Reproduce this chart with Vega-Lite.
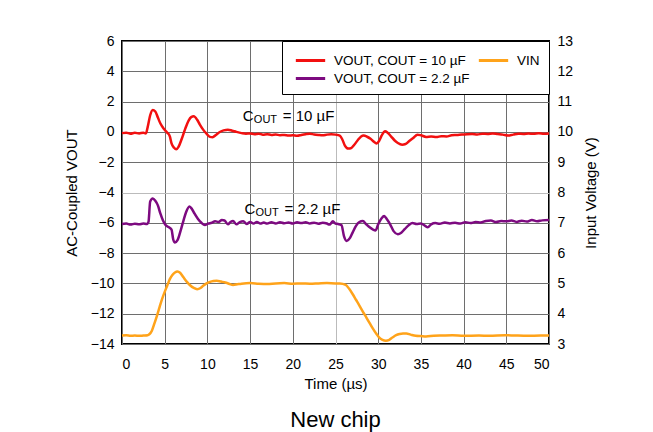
{
  "$schema": "https://vega.github.io/schema/vega-lite/v6.json",
  "autosize": "none",
  "width": 427,
  "height": 303,
  "padding": {"left": 122, "top": 41, "right": 104, "bottom": 88},
  "background": "white",
  "datasets": {
    "vout": [
      {"s": "VOUT, COUT = 10 µF", "t": 0, "v": -0.08}, {"s": "VOUT, COUT = 10 µF", "t": 0.5, "v": -0.05}, {"s": "VOUT, COUT = 10 µF", "t": 1, "v": -0.12}, {"s": "VOUT, COUT = 10 µF", "t": 1.5, "v": -0.06}, {"s": "VOUT, COUT = 10 µF", "t": 2, "v": -0.1}, {"s": "VOUT, COUT = 10 µF", "t": 2.5, "v": -0.05}, {"s": "VOUT, COUT = 10 µF", "t": 2.8, "v": -0.1}, {"s": "VOUT, COUT = 10 µF", "t": 3.0, "v": 0.3}, {"s": "VOUT, COUT = 10 µF", "t": 3.3, "v": 1.1}, {"s": "VOUT, COUT = 10 µF", "t": 3.6, "v": 1.45}, {"s": "VOUT, COUT = 10 µF", "t": 3.9, "v": 1.35}, {"s": "VOUT, COUT = 10 µF", "t": 4.2, "v": 0.95}, {"s": "VOUT, COUT = 10 µF", "t": 4.5, "v": 0.55}, {"s": "VOUT, COUT = 10 µF", "t": 4.9, "v": 0.2}, {"s": "VOUT, COUT = 10 µF", "t": 5.3, "v": -0.05}, {"s": "VOUT, COUT = 10 µF", "t": 5.6, "v": -0.3}, {"s": "VOUT, COUT = 10 µF", "t": 5.8, "v": -0.75}, {"s": "VOUT, COUT = 10 µF", "t": 6.1, "v": -1.05}, {"s": "VOUT, COUT = 10 µF", "t": 6.35, "v": -1.15}, {"s": "VOUT, COUT = 10 µF", "t": 6.6, "v": -1.0}, {"s": "VOUT, COUT = 10 µF", "t": 7.0, "v": -0.45}, {"s": "VOUT, COUT = 10 µF", "t": 7.4, "v": 0.2}, {"s": "VOUT, COUT = 10 µF", "t": 7.8, "v": 0.75}, {"s": "VOUT, COUT = 10 µF", "t": 8.1, "v": 0.98}, {"s": "VOUT, COUT = 10 µF", "t": 8.4, "v": 1.03}, {"s": "VOUT, COUT = 10 µF", "t": 8.8, "v": 0.8}, {"s": "VOUT, COUT = 10 µF", "t": 9.1, "v": 0.5}, {"s": "VOUT, COUT = 10 µF", "t": 9.5, "v": 0.15}, {"s": "VOUT, COUT = 10 µF", "t": 9.9, "v": -0.12}, {"s": "VOUT, COUT = 10 µF", "t": 10.3, "v": -0.33}, {"s": "VOUT, COUT = 10 µF", "t": 10.6, "v": -0.35}, {"s": "VOUT, COUT = 10 µF", "t": 11.0, "v": -0.2}, {"s": "VOUT, COUT = 10 µF", "t": 11.4, "v": -0.02}, {"s": "VOUT, COUT = 10 µF", "t": 11.9, "v": 0.1}, {"s": "VOUT, COUT = 10 µF", "t": 12.4, "v": 0.15}, {"s": "VOUT, COUT = 10 µF", "t": 12.9, "v": 0.08}, {"s": "VOUT, COUT = 10 µF", "t": 13.4, "v": 0.0}, {"s": "VOUT, COUT = 10 µF", "t": 14.0, "v": -0.08}, {"s": "VOUT, COUT = 10 µF", "t": 14.5, "v": -0.12}, {"s": "VOUT, COUT = 10 µF", "t": 15, "v": -0.1}, {"s": "VOUT, COUT = 10 µF", "t": 15.5, "v": -0.15}, {"s": "VOUT, COUT = 10 µF", "t": 16, "v": -0.12}, {"s": "VOUT, COUT = 10 µF", "t": 16.5, "v": -0.18}, {"s": "VOUT, COUT = 10 µF", "t": 17, "v": -0.15}, {"s": "VOUT, COUT = 10 µF", "t": 17.5, "v": -0.2}, {"s": "VOUT, COUT = 10 µF", "t": 18, "v": -0.17}, {"s": "VOUT, COUT = 10 µF", "t": 18.5, "v": -0.22}, {"s": "VOUT, COUT = 10 µF", "t": 19, "v": -0.2}, {"s": "VOUT, COUT = 10 µF", "t": 19.5, "v": -0.24}, {"s": "VOUT, COUT = 10 µF", "t": 20, "v": -0.22}, {"s": "VOUT, COUT = 10 µF", "t": 20.5, "v": -0.26}, {"s": "VOUT, COUT = 10 µF", "t": 21, "v": -0.2}, {"s": "VOUT, COUT = 10 µF", "t": 21.5, "v": -0.15}, {"s": "VOUT, COUT = 10 µF", "t": 22, "v": -0.12}, {"s": "VOUT, COUT = 10 µF", "t": 22.5, "v": -0.17}, {"s": "VOUT, COUT = 10 µF", "t": 23, "v": -0.2}, {"s": "VOUT, COUT = 10 µF", "t": 23.5, "v": -0.22}, {"s": "VOUT, COUT = 10 µF", "t": 24, "v": -0.18}, {"s": "VOUT, COUT = 10 µF", "t": 24.5, "v": -0.16}, {"s": "VOUT, COUT = 10 µF", "t": 25, "v": -0.18}, {"s": "VOUT, COUT = 10 µF", "t": 25.5, "v": -0.24}, {"s": "VOUT, COUT = 10 µF", "t": 25.8, "v": -0.5}, {"s": "VOUT, COUT = 10 µF", "t": 26.1, "v": -0.9}, {"s": "VOUT, COUT = 10 µF", "t": 26.5, "v": -1.1}, {"s": "VOUT, COUT = 10 µF", "t": 26.8, "v": -1.08}, {"s": "VOUT, COUT = 10 µF", "t": 27.2, "v": -0.85}, {"s": "VOUT, COUT = 10 µF", "t": 27.6, "v": -0.55}, {"s": "VOUT, COUT = 10 µF", "t": 28.0, "v": -0.3}, {"s": "VOUT, COUT = 10 µF", "t": 28.3, "v": -0.24}, {"s": "VOUT, COUT = 10 µF", "t": 28.7, "v": -0.32}, {"s": "VOUT, COUT = 10 µF", "t": 29.1, "v": -0.45}, {"s": "VOUT, COUT = 10 µF", "t": 29.5, "v": -0.65}, {"s": "VOUT, COUT = 10 µF", "t": 29.8, "v": -0.77}, {"s": "VOUT, COUT = 10 µF", "t": 30.1, "v": -0.6}, {"s": "VOUT, COUT = 10 µF", "t": 30.4, "v": -0.25}, {"s": "VOUT, COUT = 10 µF", "t": 30.8, "v": 0.04}, {"s": "VOUT, COUT = 10 µF", "t": 31.1, "v": -0.05}, {"s": "VOUT, COUT = 10 µF", "t": 31.5, "v": -0.29}, {"s": "VOUT, COUT = 10 µF", "t": 31.9, "v": -0.55}, {"s": "VOUT, COUT = 10 µF", "t": 32.3, "v": -0.73}, {"s": "VOUT, COUT = 10 µF", "t": 32.8, "v": -0.84}, {"s": "VOUT, COUT = 10 µF", "t": 33.2, "v": -0.8}, {"s": "VOUT, COUT = 10 µF", "t": 33.6, "v": -0.62}, {"s": "VOUT, COUT = 10 µF", "t": 34.1, "v": -0.4}, {"s": "VOUT, COUT = 10 µF", "t": 34.6, "v": -0.18}, {"s": "VOUT, COUT = 10 µF", "t": 35.0, "v": -0.22}, {"s": "VOUT, COUT = 10 µF", "t": 35.6, "v": -0.33}, {"s": "VOUT, COUT = 10 µF", "t": 36.2, "v": -0.3}, {"s": "VOUT, COUT = 10 µF", "t": 36.8, "v": -0.34}, {"s": "VOUT, COUT = 10 µF", "t": 37.4, "v": -0.28}, {"s": "VOUT, COUT = 10 µF", "t": 38, "v": -0.3}, {"s": "VOUT, COUT = 10 µF", "t": 38.6, "v": -0.22}, {"s": "VOUT, COUT = 10 µF", "t": 39.2, "v": -0.2}, {"s": "VOUT, COUT = 10 µF", "t": 39.8, "v": -0.17}, {"s": "VOUT, COUT = 10 µF", "t": 40.4, "v": -0.15}, {"s": "VOUT, COUT = 10 µF", "t": 41, "v": -0.14}, {"s": "VOUT, COUT = 10 µF", "t": 41.6, "v": -0.17}, {"s": "VOUT, COUT = 10 µF", "t": 42.2, "v": -0.12}, {"s": "VOUT, COUT = 10 µF", "t": 42.8, "v": -0.14}, {"s": "VOUT, COUT = 10 µF", "t": 43.4, "v": -0.1}, {"s": "VOUT, COUT = 10 µF", "t": 44, "v": -0.14}, {"s": "VOUT, COUT = 10 µF", "t": 44.6, "v": -0.18}, {"s": "VOUT, COUT = 10 µF", "t": 45.2, "v": -0.24}, {"s": "VOUT, COUT = 10 µF", "t": 45.8, "v": -0.18}, {"s": "VOUT, COUT = 10 µF", "t": 46.4, "v": -0.12}, {"s": "VOUT, COUT = 10 µF", "t": 47, "v": -0.14}, {"s": "VOUT, COUT = 10 µF", "t": 47.6, "v": -0.1}, {"s": "VOUT, COUT = 10 µF", "t": 48.2, "v": -0.13}, {"s": "VOUT, COUT = 10 µF", "t": 48.8, "v": -0.09}, {"s": "VOUT, COUT = 10 µF", "t": 49.4, "v": -0.12}, {"s": "VOUT, COUT = 10 µF", "t": 50, "v": -0.1},

      {"s": "VOUT, COUT = 2.2 µF", "t": 0, "v": -6.08}, {"s": "VOUT, COUT = 2.2 µF", "t": 0.5, "v": -6.05}, {"s": "VOUT, COUT = 2.2 µF", "t": 1, "v": -6.12}, {"s": "VOUT, COUT = 2.2 µF", "t": 1.5, "v": -6.06}, {"s": "VOUT, COUT = 2.2 µF", "t": 2, "v": -6.1}, {"s": "VOUT, COUT = 2.2 µF", "t": 2.5, "v": -6.05}, {"s": "VOUT, COUT = 2.2 µF", "t": 2.9, "v": -6.08}, {"s": "VOUT, COUT = 2.2 µF", "t": 3.1, "v": -5.95}, {"s": "VOUT, COUT = 2.2 µF", "t": 3.3, "v": -4.6}, {"s": "VOUT, COUT = 2.2 µF", "t": 3.6, "v": -4.4}, {"s": "VOUT, COUT = 2.2 µF", "t": 3.9, "v": -4.55}, {"s": "VOUT, COUT = 2.2 µF", "t": 4.2, "v": -4.85}, {"s": "VOUT, COUT = 2.2 µF", "t": 4.5, "v": -5.4}, {"s": "VOUT, COUT = 2.2 µF", "t": 4.8, "v": -5.85}, {"s": "VOUT, COUT = 2.2 µF", "t": 5.1, "v": -6.15}, {"s": "VOUT, COUT = 2.2 µF", "t": 5.5, "v": -6.3}, {"s": "VOUT, COUT = 2.2 µF", "t": 5.8, "v": -6.45}, {"s": "VOUT, COUT = 2.2 µF", "t": 6.0, "v": -7.1}, {"s": "VOUT, COUT = 2.2 µF", "t": 6.2, "v": -7.3}, {"s": "VOUT, COUT = 2.2 µF", "t": 6.5, "v": -7.15}, {"s": "VOUT, COUT = 2.2 µF", "t": 6.9, "v": -6.45}, {"s": "VOUT, COUT = 2.2 µF", "t": 7.2, "v": -5.85}, {"s": "VOUT, COUT = 2.2 µF", "t": 7.5, "v": -5.3}, {"s": "VOUT, COUT = 2.2 µF", "t": 7.9, "v": -4.92}, {"s": "VOUT, COUT = 2.2 µF", "t": 8.2, "v": -5.1}, {"s": "VOUT, COUT = 2.2 µF", "t": 8.5, "v": -5.4}, {"s": "VOUT, COUT = 2.2 µF", "t": 8.9, "v": -5.75}, {"s": "VOUT, COUT = 2.2 µF", "t": 9.3, "v": -6.0}, {"s": "VOUT, COUT = 2.2 µF", "t": 9.7, "v": -6.15}, {"s": "VOUT, COUT = 2.2 µF", "t": 10.1, "v": -6.05}, {"s": "VOUT, COUT = 2.2 µF", "t": 10.5, "v": -6.0}, {"s": "VOUT, COUT = 2.2 µF", "t": 10.9, "v": -5.9}, {"s": "VOUT, COUT = 2.2 µF", "t": 11.3, "v": -5.95}, {"s": "VOUT, COUT = 2.2 µF", "t": 11.7, "v": -5.82}, {"s": "VOUT, COUT = 2.2 µF", "t": 12.0, "v": -5.85}, {"s": "VOUT, COUT = 2.2 µF", "t": 12.4, "v": -6.1}, {"s": "VOUT, COUT = 2.2 µF", "t": 12.7, "v": -5.95}, {"s": "VOUT, COUT = 2.2 µF", "t": 13.0, "v": -5.88}, {"s": "VOUT, COUT = 2.2 µF", "t": 13.4, "v": -6.1}, {"s": "VOUT, COUT = 2.2 µF", "t": 13.8, "v": -5.95}, {"s": "VOUT, COUT = 2.2 µF", "t": 14.2, "v": -5.9}, {"s": "VOUT, COUT = 2.2 µF", "t": 14.6, "v": -6.08}, {"s": "VOUT, COUT = 2.2 µF", "t": 15.0, "v": -5.95}, {"s": "VOUT, COUT = 2.2 µF", "t": 15.4, "v": -6.05}, {"s": "VOUT, COUT = 2.2 µF", "t": 15.8, "v": -5.95}, {"s": "VOUT, COUT = 2.2 µF", "t": 16.2, "v": -6.05}, {"s": "VOUT, COUT = 2.2 µF", "t": 16.6, "v": -5.98}, {"s": "VOUT, COUT = 2.2 µF", "t": 17, "v": -6.05}, {"s": "VOUT, COUT = 2.2 µF", "t": 17.5, "v": -5.97}, {"s": "VOUT, COUT = 2.2 µF", "t": 18, "v": -6.04}, {"s": "VOUT, COUT = 2.2 µF", "t": 18.5, "v": -5.96}, {"s": "VOUT, COUT = 2.2 µF", "t": 19, "v": -6.03}, {"s": "VOUT, COUT = 2.2 µF", "t": 19.5, "v": -5.98}, {"s": "VOUT, COUT = 2.2 µF", "t": 20, "v": -6.05}, {"s": "VOUT, COUT = 2.2 µF", "t": 20.5, "v": -5.97}, {"s": "VOUT, COUT = 2.2 µF", "t": 21, "v": -6.02}, {"s": "VOUT, COUT = 2.2 µF", "t": 21.5, "v": -5.96}, {"s": "VOUT, COUT = 2.2 µF", "t": 22, "v": -6.04}, {"s": "VOUT, COUT = 2.2 µF", "t": 22.5, "v": -5.99}, {"s": "VOUT, COUT = 2.2 µF", "t": 23, "v": -6.06}, {"s": "VOUT, COUT = 2.2 µF", "t": 23.5, "v": -6.0}, {"s": "VOUT, COUT = 2.2 µF", "t": 24, "v": -6.05}, {"s": "VOUT, COUT = 2.2 µF", "t": 24.3, "v": -6.12}, {"s": "VOUT, COUT = 2.2 µF", "t": 24.7, "v": -5.9}, {"s": "VOUT, COUT = 2.2 µF", "t": 25.0, "v": -6.05}, {"s": "VOUT, COUT = 2.2 µF", "t": 25.3, "v": -6.08}, {"s": "VOUT, COUT = 2.2 µF", "t": 25.7, "v": -6.15}, {"s": "VOUT, COUT = 2.2 µF", "t": 26.0, "v": -6.9}, {"s": "VOUT, COUT = 2.2 µF", "t": 26.3, "v": -7.2}, {"s": "VOUT, COUT = 2.2 µF", "t": 26.7, "v": -7.0}, {"s": "VOUT, COUT = 2.2 µF", "t": 27.0, "v": -6.65}, {"s": "VOUT, COUT = 2.2 µF", "t": 27.4, "v": -6.2}, {"s": "VOUT, COUT = 2.2 µF", "t": 27.8, "v": -5.95}, {"s": "VOUT, COUT = 2.2 µF", "t": 28.2, "v": -5.88}, {"s": "VOUT, COUT = 2.2 µF", "t": 28.6, "v": -6.1}, {"s": "VOUT, COUT = 2.2 µF", "t": 29.0, "v": -6.3}, {"s": "VOUT, COUT = 2.2 µF", "t": 29.4, "v": -6.45}, {"s": "VOUT, COUT = 2.2 µF", "t": 29.7, "v": -6.5}, {"s": "VOUT, COUT = 2.2 µF", "t": 30.0, "v": -6.1}, {"s": "VOUT, COUT = 2.2 µF", "t": 30.4, "v": -5.7}, {"s": "VOUT, COUT = 2.2 µF", "t": 30.7, "v": -5.55}, {"s": "VOUT, COUT = 2.2 µF", "t": 31.0, "v": -5.75}, {"s": "VOUT, COUT = 2.2 µF", "t": 31.4, "v": -6.1}, {"s": "VOUT, COUT = 2.2 µF", "t": 31.8, "v": -6.55}, {"s": "VOUT, COUT = 2.2 µF", "t": 32.3, "v": -6.75}, {"s": "VOUT, COUT = 2.2 µF", "t": 32.7, "v": -6.65}, {"s": "VOUT, COUT = 2.2 µF", "t": 33.1, "v": -6.42}, {"s": "VOUT, COUT = 2.2 µF", "t": 33.6, "v": -6.15}, {"s": "VOUT, COUT = 2.2 µF", "t": 34.0, "v": -6.02}, {"s": "VOUT, COUT = 2.2 µF", "t": 34.5, "v": -6.08}, {"s": "VOUT, COUT = 2.2 µF", "t": 35.0, "v": -6.05}, {"s": "VOUT, COUT = 2.2 µF", "t": 35.5, "v": -6.2}, {"s": "VOUT, COUT = 2.2 µF", "t": 35.8, "v": -6.3}, {"s": "VOUT, COUT = 2.2 µF", "t": 36.2, "v": -6.1}, {"s": "VOUT, COUT = 2.2 µF", "t": 36.7, "v": -6.02}, {"s": "VOUT, COUT = 2.2 µF", "t": 37.2, "v": -6.06}, {"s": "VOUT, COUT = 2.2 µF", "t": 37.8, "v": -5.98}, {"s": "VOUT, COUT = 2.2 µF", "t": 38.4, "v": -6.04}, {"s": "VOUT, COUT = 2.2 µF", "t": 39, "v": -6.0}, {"s": "VOUT, COUT = 2.2 µF", "t": 39.6, "v": -6.05}, {"s": "VOUT, COUT = 2.2 µF", "t": 40.2, "v": -5.96}, {"s": "VOUT, COUT = 2.2 µF", "t": 40.8, "v": -6.02}, {"s": "VOUT, COUT = 2.2 µF", "t": 41.4, "v": -5.95}, {"s": "VOUT, COUT = 2.2 µF", "t": 42, "v": -5.98}, {"s": "VOUT, COUT = 2.2 µF", "t": 42.6, "v": -5.88}, {"s": "VOUT, COUT = 2.2 µF", "t": 43.2, "v": -5.85}, {"s": "VOUT, COUT = 2.2 µF", "t": 43.8, "v": -5.95}, {"s": "VOUT, COUT = 2.2 µF", "t": 44.4, "v": -5.88}, {"s": "VOUT, COUT = 2.2 µF", "t": 45, "v": -5.9}, {"s": "VOUT, COUT = 2.2 µF", "t": 45.6, "v": -5.85}, {"s": "VOUT, COUT = 2.2 µF", "t": 46.2, "v": -5.94}, {"s": "VOUT, COUT = 2.2 µF", "t": 46.8, "v": -5.86}, {"s": "VOUT, COUT = 2.2 µF", "t": 47.4, "v": -5.92}, {"s": "VOUT, COUT = 2.2 µF", "t": 48, "v": -5.82}, {"s": "VOUT, COUT = 2.2 µF", "t": 48.6, "v": -5.9}, {"s": "VOUT, COUT = 2.2 µF", "t": 49.2, "v": -5.84}, {"s": "VOUT, COUT = 2.2 µF", "t": 50, "v": -5.82}
    ],
    "vin": [
      {"s": "VIN", "t": 0, "vin": 3.28}, {"s": "VIN", "t": 0.5, "vin": 3.29}, {"s": "VIN", "t": 1, "vin": 3.27}, {"s": "VIN", "t": 1.5, "vin": 3.28}, {"s": "VIN", "t": 2, "vin": 3.27}, {"s": "VIN", "t": 2.5, "vin": 3.28}, {"s": "VIN", "t": 3.0, "vin": 3.29}, {"s": "VIN", "t": 3.2, "vin": 3.32}, {"s": "VIN", "t": 3.5, "vin": 3.44}, {"s": "VIN", "t": 3.8, "vin": 3.68}, {"s": "VIN", "t": 4.1, "vin": 3.94}, {"s": "VIN", "t": 4.4, "vin": 4.22}, {"s": "VIN", "t": 4.7, "vin": 4.49}, {"s": "VIN", "t": 5.0, "vin": 4.72}, {"s": "VIN", "t": 5.3, "vin": 4.93}, {"s": "VIN", "t": 5.6, "vin": 5.14}, {"s": "VIN", "t": 5.9, "vin": 5.28}, {"s": "VIN", "t": 6.2, "vin": 5.36}, {"s": "VIN", "t": 6.5, "vin": 5.39}, {"s": "VIN", "t": 6.8, "vin": 5.35}, {"s": "VIN", "t": 7.2, "vin": 5.2}, {"s": "VIN", "t": 7.6, "vin": 5.05}, {"s": "VIN", "t": 8.0, "vin": 4.93}, {"s": "VIN", "t": 8.4, "vin": 4.85}, {"s": "VIN", "t": 8.8, "vin": 4.81}, {"s": "VIN", "t": 9.2, "vin": 4.85}, {"s": "VIN", "t": 9.5, "vin": 4.92}, {"s": "VIN", "t": 9.9, "vin": 5.0}, {"s": "VIN", "t": 10.3, "vin": 5.05}, {"s": "VIN", "t": 10.7, "vin": 5.08}, {"s": "VIN", "t": 11.1, "vin": 5.09}, {"s": "VIN", "t": 11.6, "vin": 5.06}, {"s": "VIN", "t": 12.1, "vin": 5.03}, {"s": "VIN", "t": 12.6, "vin": 4.98}, {"s": "VIN", "t": 13.0, "vin": 4.95}, {"s": "VIN", "t": 13.5, "vin": 4.97}, {"s": "VIN", "t": 14, "vin": 4.99}, {"s": "VIN", "t": 15, "vin": 5.01}, {"s": "VIN", "t": 16, "vin": 4.99}, {"s": "VIN", "t": 17, "vin": 4.98}, {"s": "VIN", "t": 18, "vin": 5.0}, {"s": "VIN", "t": 19, "vin": 5.01}, {"s": "VIN", "t": 20, "vin": 4.99}, {"s": "VIN", "t": 21, "vin": 5.0}, {"s": "VIN", "t": 22, "vin": 4.99}, {"s": "VIN", "t": 23, "vin": 5.0}, {"s": "VIN", "t": 24, "vin": 5.01}, {"s": "VIN", "t": 25, "vin": 5.0}, {"s": "VIN", "t": 25.5, "vin": 5.0}, {"s": "VIN", "t": 26.2, "vin": 4.95}, {"s": "VIN", "t": 26.6, "vin": 4.82}, {"s": "VIN", "t": 27.0, "vin": 4.65}, {"s": "VIN", "t": 27.4, "vin": 4.46}, {"s": "VIN", "t": 27.8, "vin": 4.27}, {"s": "VIN", "t": 28.2, "vin": 4.07}, {"s": "VIN", "t": 28.6, "vin": 3.88}, {"s": "VIN", "t": 29.0, "vin": 3.69}, {"s": "VIN", "t": 29.4, "vin": 3.5}, {"s": "VIN", "t": 29.8, "vin": 3.33}, {"s": "VIN", "t": 30.1, "vin": 3.22}, {"s": "VIN", "t": 30.5, "vin": 3.14}, {"s": "VIN", "t": 30.9, "vin": 3.11}, {"s": "VIN", "t": 31.3, "vin": 3.14}, {"s": "VIN", "t": 31.7, "vin": 3.22}, {"s": "VIN", "t": 32.1, "vin": 3.29}, {"s": "VIN", "t": 32.5, "vin": 3.33}, {"s": "VIN", "t": 32.9, "vin": 3.35}, {"s": "VIN", "t": 33.3, "vin": 3.35}, {"s": "VIN", "t": 33.8, "vin": 3.31}, {"s": "VIN", "t": 34.4, "vin": 3.27}, {"s": "VIN", "t": 35, "vin": 3.26}, {"s": "VIN", "t": 35.6, "vin": 3.25}, {"s": "VIN", "t": 36.5, "vin": 3.27}, {"s": "VIN", "t": 37.5, "vin": 3.28}, {"s": "VIN", "t": 38.7, "vin": 3.29}, {"s": "VIN", "t": 40, "vin": 3.27}, {"s": "VIN", "t": 41.8, "vin": 3.28}, {"s": "VIN", "t": 43, "vin": 3.27}, {"s": "VIN", "t": 44.9, "vin": 3.29}, {"s": "VIN", "t": 46, "vin": 3.28}, {"s": "VIN", "t": 47.5, "vin": 3.27}, {"s": "VIN", "t": 49, "vin": 3.28}, {"s": "VIN", "t": 50, "vin": 3.28}
    ],
    "notes": [
      {"t": 14.15, "v": 1.02, "rest": "= 10 µF"},
      {"t": 14.35, "v": -5.12, "rest": "= 2.2 µF"}
    ]
  },
  "title": {"text": "New chip", "orient": "bottom", "fontSize": 22, "fontWeight": "normal", "font": "Liberation Sans", "color": "black", "offset": 19},
  "layer": [
    {
      "encoding": {
        "x": {"field": "t", "type": "quantitative", "scale": {"domain": [0, 50], "nice": false},
              "axis": {"values": [0,5,10,15,20,25,30,35,40,45,50], "title": "Time (µs)", "labelPadding": 13, "titlePadding": 5,
                       "gridColor": {"condition": {"test": "datum.value === 25", "value": "#bbbbbb"}, "value": "#6e6e6e"}}},
        "y": {"field": "v", "type": "quantitative", "scale": {"domain": [-14, 6], "nice": false},
              "axis": {"values": [-14,-12,-10,-8,-6,-4,-2,0,2,4,6], "title": "AC-Coupled VOUT", "labelPadding": 8, "titlePadding": 11,
                       "gridColor": {"condition": {"test": "datum.value === -4", "value": "#bbbbbb"}, "value": "#6e6e6e"}}}
      },
      "layer": [
        {
          "data": {"name": "vout"},
          "mark": {"type": "line", "strokeWidth": 2.5, "interpolate": "monotone"},
          "encoding": {
            "color": {"field": "s", "type": "nominal",
              "scale": {"domain": ["VOUT, COUT = 10 µF", "VIN", "VOUT, COUT = 2.2 µF"], "range": ["#f21010", "#ffa31a", "#7d0a80"]},
              "legend": {"title": null, "orient": "top-right", "offset": 0, "columns": 2, "direction": "horizontal",
                         "labelFontSize": 13.5, "labelLimit": 300, "symbolType": "M-1.63,0H1.63", "symbolStrokeWidth": 3, "symbolSize": 324,
                         "symbolOffset": 9, "labelOffset": 13,
                         "strokeColor": "black", "fillColor": "white", "padding": 9, "rowPadding": 1, "columnPadding": 2}}
          }
        },
        {"data": {"name": "notes"}, "mark": {"type": "text", "text": "C", "align": "left", "baseline": "middle", "fontSize": 15, "color": "black"}},
        {"data": {"name": "notes"}, "mark": {"type": "text", "text": "OUT", "align": "left", "baseline": "middle", "fontSize": 11, "dx": 11, "dy": 4, "color": "black"}},
        {"data": {"name": "notes"}, "mark": {"type": "text", "align": "left", "baseline": "middle", "fontSize": 15, "dx": 40, "color": "black"},
         "encoding": {"text": {"field": "rest"}}}
      ]
    },
    {
      "data": {"name": "vin"},
      "mark": {"type": "line", "strokeWidth": 2.5, "interpolate": "monotone"},
      "encoding": {
        "x": {"field": "t", "type": "quantitative", "scale": {"domain": [0, 50], "nice": false}},
        "y": {"field": "vin", "type": "quantitative", "scale": {"domain": [3, 13], "nice": false},
              "axis": {"orient": "right", "values": [3,4,5,6,7,8,9,10,11,12,13], "grid": false, "title": "Input Voltage (V)", "titleAngle": 270, "labelPadding": 8, "titlePadding": 26}},
        "color": {"field": "s", "type": "nominal"}
      }
    }
  ],
  "resolve": {"scale": {"y": "independent"}},
  "config": {
    "font": "Liberation Sans",
    "view": {"stroke": "black", "strokeWidth": 2},
    "axis": {"labelFontSize": 14, "titleFontSize": 15, "labelColor": "black", "titleColor": "black", "titleFontWeight": "normal",
             "ticks": false, "domain": false, "gridOpacity": 1, "gridWidth": 1},
    "legend": {"labelColor": "black"}
  }
}
